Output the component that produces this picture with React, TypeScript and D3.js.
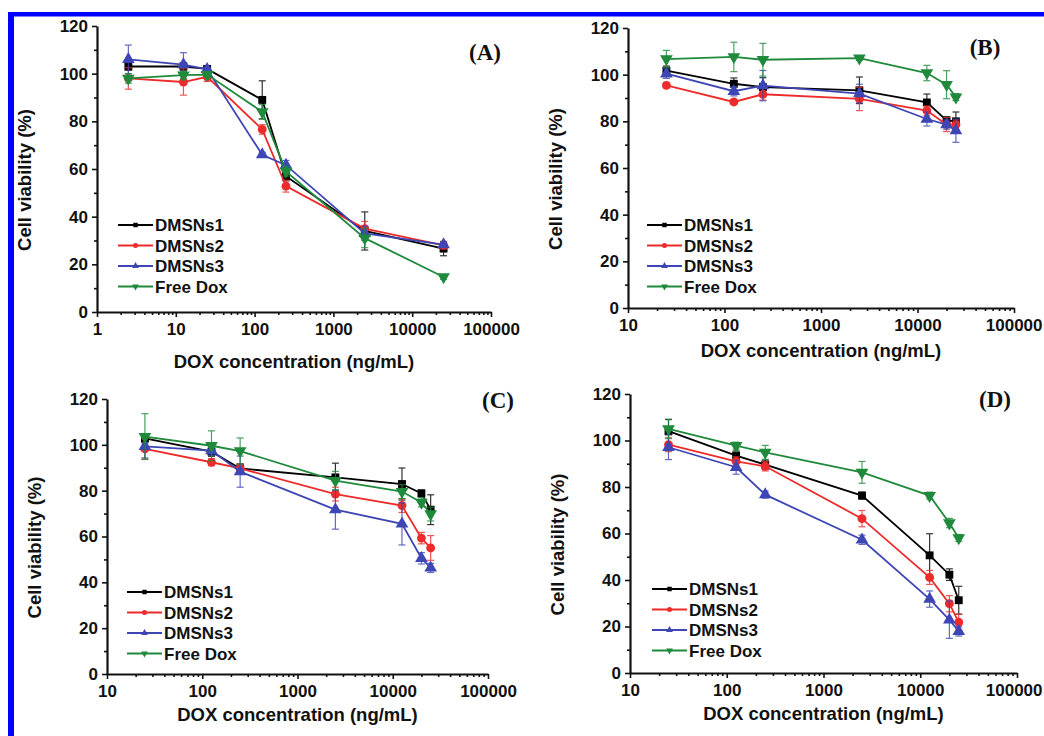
import React, { useEffect, useRef } from "react";
import * as d3 from "d3";

// series shared by every panel
const seriesNames = ["DMSNs1", "DMSNs2", "DMSNs3", "Free Dox"];
const seriesColors = ["#000000", "#ee2b2b", "#3d46b4", "#1f8a3b"];

// DOX concentrations (ng/mL)
const concA = [2.5, 12.5, 25, 125, 250, 2500, 25000];
const concBCD = [25, 125, 250, 2500, 12500, 20000, 25000];

// panel A
const aDMSNs1 = [103, 103, 102, 89, 57, 34, 26.6];
const aDMSNs2 = [98, 96.5, 98.7, 76.6, 52.8, 35, 28];
const aDMSNs3 = [106, 103.8, 101.8, 66, 61.6, 33, 28.3];
const aFreeDox = [98, 99.4, 99.6, 84, 59, 31, 14.7];
const aErr1 = [1.5, 1.5, 1, 8, 2, 8, 3];
const aErr2 = [4.5, 5.5, 2, 2, 2.5, 3, 1.5];
const aErr3 = [6, 5, 1, 1, 2, 3, 1];
const aErrF = [2, 1.5, 1, 3, 2, 4, 1];

// panel B
const bDMSNs1 = [101.7, 96.1, 94.7, 93.3, 88.1, 80.4, 80];
const bDMSNs2 = [95.4, 88.3, 91.6, 89.6, 84.6, 78.6, 78.6];
const bDMSNs3 = [100.4, 92.9, 95.3, 91.9, 81, 78.6, 76];
const bFreeDox = [106.7, 107.6, 106.4, 107.1, 100.7, 95.7, 90.4];
const bErr1 = [2, 2.5, 4, 5.7, 3.6, 1.5, 4];
const bErr2 = [1, 1, 2.5, 5, 2, 3, 2];
const bErr3 = [2, 2, 6.5, 4, 3, 2, 5];
const bErrF = [3.7, 6.3, 7, 1, 3.3, 6, 1.5];

// panel C
const cDMSNs1 = [102.8, 97, 89.7, 85.8, 82.9, 78.8, 71.7];
const cDMSNs2 = [98.2, 92.4, 89.7, 78.5, 73.5, 59.3, 55];
const cDMSNs3 = [99.3, 97.5, 88.3, 71.7, 65.5, 50.5, 46.3];
const cFreeDox = [103.6, 99.6, 97.3, 84.4, 79.6, 74.9, 69.8];
const cErr1 = [2, 2, 2, 6.2, 7, 1.5, 6.5];
const cErr2 = [4.4, 1.5, 2, 3, 3, 2.5, 5.4];
const cErr3 = [5, 2, 6.8, 8.5, 9.2, 2.5, 2];
const cErrF = [10, 6.5, 5.7, 4, 3, 2, 3];

// panel D
const dDMSNs1 = [104, 93.5, 89.6, 76.3, 50.6, 42.3, 31.3];
const dDMSNs2 = [98.2, 91, 88.9, 66.4, 41.1, 29.8, 21.8];
const dDMSNs3 = [97.1, 88.5, 76.7, 57.3, 31.8, 22.9, 17.9];
const dFreeDox = [105, 97.8, 94.9, 86.3, 76.3, 64.5, 58.1];
const dErr1 = [5, 2, 2, 1.5, 9.3, 2.5, 6];
const dErr2 = [3, 2, 2, 3.5, 3, 3.5, 3.5];
const dErr3 = [5.3, 3, 1.5, 2, 3.5, 8, 2];
const dErrF = [4.2, 1.5, 3, 4.7, 1.5, 2, 1.5];

const yMajor = [0, 20, 40, 60, 80, 100, 120];
const yMinor = [10, 30, 50, 70, 90, 110];

const panels = [
    { label: "(A)", conc: concA, vals: [aDMSNs1, aDMSNs2, aDMSNs3, aFreeDox], errs: [aErr1, aErr2, aErr3, aErrF],
      domain: [1, 100000], left: 97, right: 491, top: 26, bottom: 312, xTitleY: 368, labelX: 485, labelY: 60, legX: 118, legY: 225 },
    { label: "(B)", conc: concBCD, vals: [bDMSNs1, bDMSNs2, bDMSNs3, bFreeDox], errs: [bErr1, bErr2, bErr3, bErrF],
      domain: [10, 100000], left: 628, right: 1014, top: 28, bottom: 308, xTitleY: 357, labelX: 985, labelY: 55, legX: 647, legY: 225 },
    { label: "(C)", conc: concBCD, vals: [cDMSNs1, cDMSNs2, cDMSNs3, cFreeDox], errs: [cErr1, cErr2, cErr3, cErrF],
      domain: [10, 100000], left: 107, right: 488, top: 399, bottom: 674, xTitleY: 721, labelX: 498, labelY: 408, legX: 127, legY: 592 },
    { label: "(D)", conc: concBCD, vals: [dDMSNs1, dDMSNs2, dDMSNs3, dFreeDox], errs: [dErr1, dErr2, dErr3, dErrF],
      domain: [10, 100000], left: 630, right: 1017, top: 394, bottom: 673, xTitleY: 720, labelX: 995, labelY: 407, legX: 652, legY: 589 }
];

const sans = "'Liberation Sans', Arial, sans-serif";

function symbolPath(i, size)
{
    const types = [d3.symbolSquare, d3.symbolCircle, d3.symbolTriangle, d3.symbolTriangle];
    return d3.symbol().type(types[i]).size(size)();
}

function drawPanel(svg, p)
{
    const x = d3.scaleLog().domain(p.domain).range([p.left, p.right]);
    const y = d3.scaleLinear().domain([0, 120]).range([p.bottom, p.top]);
    const g = svg.append("g");

    const allTicks = x.ticks();
    const xMajor = allTicks.filter(t => Math.abs(Math.log10(t) - Math.round(Math.log10(t))) < 1e-9);
    const xMinor = allTicks.filter(t => !xMajor.includes(t));

    // axes
    const xAxis = g.append("g")
        .attr("transform", `translate(0, ${p.bottom})`)
        .call(d3.axisBottom(x).tickValues(xMajor).tickFormat(d3.format("d")).tickSize(5).tickSizeOuter(0).tickPadding(6));
    g.append("g")
        .attr("transform", `translate(0, ${p.bottom})`)
        .call(d3.axisBottom(x).tickValues(xMinor).tickFormat(() => "").tickSize(3).tickSizeOuter(0))
        .call(s => s.select(".domain").remove());
    const yAxis = g.append("g")
        .attr("transform", `translate(${p.left}, 0)`)
        .call(d3.axisLeft(y).tickValues(yMajor).tickSize(5).tickSizeOuter(0).tickPadding(4));
    g.append("g")
        .attr("transform", `translate(${p.left}, 0)`)
        .call(d3.axisLeft(y).tickValues(yMinor).tickFormat(() => "").tickSize(3).tickSizeOuter(0))
        .call(s => s.select(".domain").remove());

    g.selectAll(".domain").attr("stroke-width", 2.2).attr("stroke", "#111");
    g.selectAll(".tick line").attr("stroke-width", 1.6).attr("stroke", "#111");
    [xAxis, yAxis].forEach(a => a.selectAll("text")
        .attr("font-family", sans).attr("font-weight", "bold").attr("font-size", 17).attr("fill", "#111"));

    // keep the last x label inside the page
    xAxis.selectAll(".tick text").each(function () {
        const box = this.getBBox();
        const tx = x(+d3.select(this.parentNode).datum());
        const overflow = tx + box.x + box.width - 1042;
        if (overflow > 0) d3.select(this).attr("dx", -overflow);
    });

    // axis titles
    g.append("text")
        .attr("x", (p.left + p.right) / 2)
        .attr("y", p.xTitleY)
        .attr("text-anchor", "middle")
        .attr("font-family", sans).attr("font-weight", "bold").attr("font-size", 18.5).attr("fill", "#111")
        .text("DOX concentration (ng/mL)");
    g.append("text")
        .attr("transform", `translate(${p.left - 66}, ${(p.top + p.bottom) / 2 + 11}) rotate(-90)`)
        .attr("text-anchor", "middle")
        .attr("font-family", sans).attr("font-weight", "bold").attr("font-size", 18.5).attr("fill", "#111")
        .text("Cell viability (%)");

    g.append("text")
        .attr("x", p.labelX)
        .attr("y", p.labelY)
        .attr("text-anchor", "middle")
        .attr("font-family", "'Liberation Serif', 'Times New Roman', serif").attr("font-weight", "bold").attr("font-size", 23)
        .attr("fill", "#111")
        .text(p.label);

    // error bars, lines, markers
    const line = d3.line().x(d => x(d[0])).y(d => y(d[1]));
    p.vals.forEach((vals, i) => {
        const color = seriesColors[i];
        const pts = p.conc.map((c, j) => [c, vals[j], p.errs[i][j]]);
        const eg = g.append("g").attr("stroke", color).attr("stroke-width", 1.2).attr("opacity", 0.8);
        pts.forEach(d => {
            const cx = x(d[0]);
            eg.append("line").attr("x1", cx).attr("x2", cx).attr("y1", y(d[1] - d[2])).attr("y2", y(d[1] + d[2]));
            eg.append("line").attr("x1", cx - 3.5).attr("x2", cx + 3.5).attr("y1", y(d[1] + d[2])).attr("y2", y(d[1] + d[2]));
            eg.append("line").attr("x1", cx - 3.5).attr("x2", cx + 3.5).attr("y1", y(d[1] - d[2])).attr("y2", y(d[1] - d[2]));
        });
        g.append("path")
            .datum(pts)
            .attr("d", line)
            .attr("fill", "none")
            .attr("stroke", color)
            .attr("stroke-width", 1.8);
        const size = i >= 2 ? 70 : 62;
        g.selectAll(null)
            .data(pts)
            .enter()
            .append("path")
            .attr("d", symbolPath(i, size))
            .attr("transform", d => `translate(${x(d[0])}, ${y(d[1])})${i === 3 ? " rotate(180)" : ""}`)
            .attr("fill", color);
    });

    // legend
    seriesNames.forEach((name, i) => {
        const ly = p.legY + i * 20.5;
        g.append("line")
            .attr("x1", p.legX).attr("x2", p.legX + 35)
            .attr("y1", ly).attr("y2", ly)
            .attr("stroke", seriesColors[i]).attr("stroke-width", 1.8);
        g.append("path")
            .attr("d", symbolPath(i, 20))
            .attr("transform", `translate(${p.legX + 17.5}, ${ly})${i === 3 ? " rotate(180)" : ""}`)
            .attr("fill", seriesColors[i]);
        g.append("text")
            .attr("x", p.legX + 37)
            .attr("y", ly + 6)
            .attr("font-family", sans).attr("font-weight", "bold").attr("font-size", 17).attr("fill", "#111")
            .text(name);
    });
}

export default function App()
{
    const ref = useRef(null);

    useEffect(() => {
        const svg = d3.select(ref.current);
        svg.selectAll("*").remove();

        // blue frame
        svg.append("rect").attr("x", 8).attr("y", 12).attr("width", 1036).attr("height", 4.5).attr("fill", "#0000ff");
        svg.append("rect").attr("x", 8).attr("y", 12).attr("width", 6).attr("height", 724).attr("fill", "#0000ff");

        panels.forEach(p => drawPanel(svg, p));
    }, []);

    return (
        <svg ref={ref} width={1044} height={736}
             style={{ position: "absolute", left: 0, top: 0, background: "#fff" }}></svg>
    );
}
